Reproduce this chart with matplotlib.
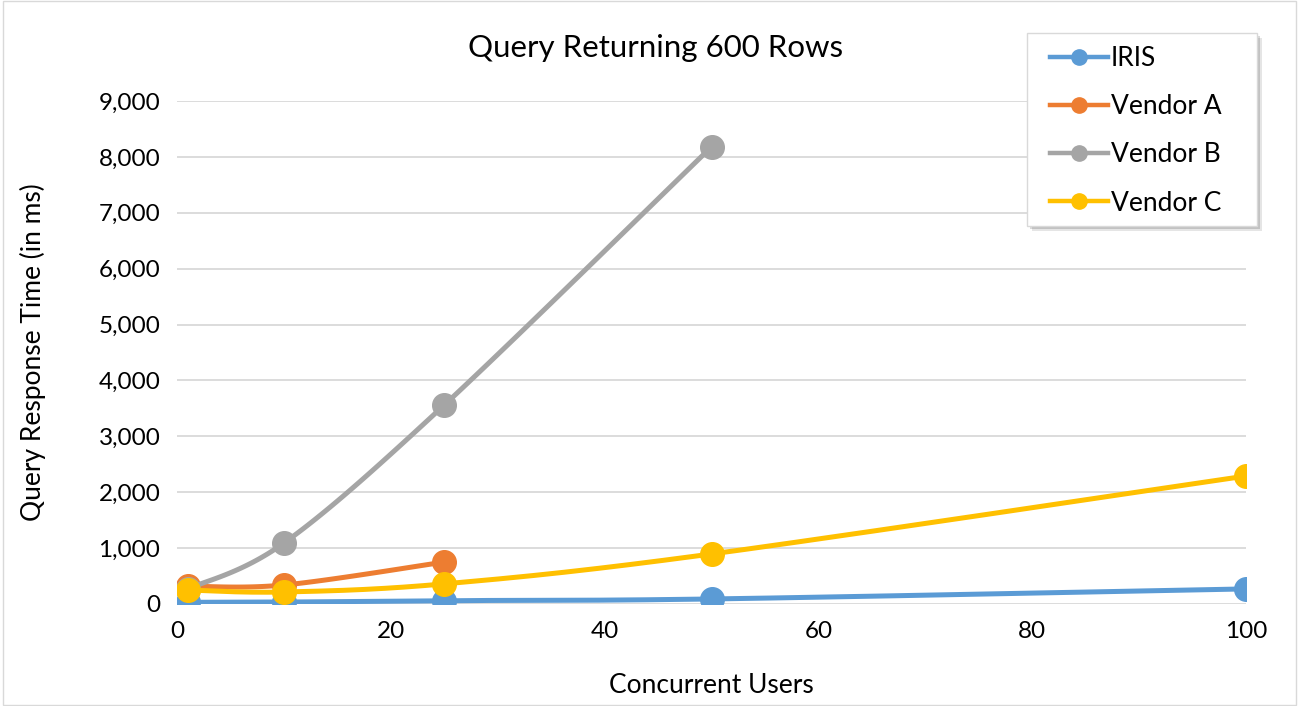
import numpy as np
import matplotlib
matplotlib.use('Agg')
import matplotlib.pyplot as plt
from matplotlib.lines import Line2D
from matplotlib.patches import Rectangle

users = [1, 10, 25, 50, 100]
iris = [30, 35, 60, 90, 270]
vendor_a = [320, 340, 750]
vendor_b = [270, 1090, 3560, 8180]
vendor_c = [250, 215, 360, 895, 2290]

series = [
    ('IRIS', iris, '#5B9BD5'),
    ('Vendor A', vendor_a, '#ED7D31'),
    ('Vendor B', vendor_b, '#A5A5A5'),
    ('Vendor C', vendor_c, '#FFC000'),
]

plt.rcParams['font.family'] = ['Lato', 'DejaVu Sans']


def smooth(xs, ys, n=40):
    # Excel style smoothed line: cubic bezier with catmull-rom control points
    xs = np.asarray(xs, float)
    ys = np.asarray(ys, float)
    px, py = [], []
    for i in range(len(xs) - 1):
        x0, y0 = (xs[i - 1], ys[i - 1]) if i > 0 else (xs[i], ys[i])
        x3, y3 = (xs[i + 2], ys[i + 2]) if i + 2 < len(xs) else (xs[i + 1], ys[i + 1])
        x1, y1 = xs[i], ys[i]
        x2, y2 = xs[i + 1], ys[i + 1]
        c1x, c1y = x1 + (x2 - x0) / 6, y1 + (y2 - y0) / 6
        c2x, c2y = x2 - (x3 - x1) / 6, y2 - (y3 - y1) / 6
        t = np.linspace(0, 1, n)
        bx = (1 - t) ** 3 * x1 + 3 * (1 - t) ** 2 * t * c1x + 3 * (1 - t) * t ** 2 * c2x + t ** 3 * x2
        by = (1 - t) ** 3 * y1 + 3 * (1 - t) ** 2 * t * c1y + 3 * (1 - t) * t ** 2 * c2y + t ** 3 * y2
        px.extend(bx)
        py.extend(by)
    return px, py


W, H = 1299, 706
fig = plt.figure(figsize=(W / 100, H / 100), dpi=100)
ax = fig.add_axes([177 / W, 1 - 604 / H, (1246 - 177) / W, (604 - 101) / H])

for name, vals, color in series:
    xs = users[:len(vals)]
    sx, sy = smooth(xs, vals)
    ax.plot(sx, sy, color=color, lw=3.6, solid_capstyle='round', zorder=3)
    ax.plot(xs, vals, 'o', color=color, ms=17, zorder=3)

ax.set_xlim(0, 100)
ax.set_ylim(0, 9000)
ax.set_xticks(range(0, 101, 20))
ax.set_yticks(range(0, 9001, 1000))
ax.yaxis.set_major_formatter(matplotlib.ticker.StrMethodFormatter('{x:,.0f}'))
ax.grid(axis='y', color='#D9D9D9', lw=1.3)
ax.set_axisbelow(True)
for s in ax.spines.values():
    s.set_visible(False)
ax.tick_params(length=0, labelsize=17.5, colors='black', pad=12)
ax.set_xlabel('Concurrent Users', fontsize=19)
ax.set_ylabel('Query Response Time (in ms)', fontsize=19)
ax.xaxis.set_label_coords(0.5, (604 - 673) / 503)
ax.yaxis.set_label_coords((46 - 177) / 1069, 0.5)
fig.text(656 / W, 1 - 48 / H, 'Query Returning 600 Rows', fontsize=22.5, ha='center', va='center')

# legend box with soft shadow
lx0, ly0, lx1, ly1 = 1027, 33, 1257, 226
for off, a in [(5, 0.10), (3, 0.15)]:
    fig.patches.append(Rectangle(((lx0 + off) / W, 1 - (ly1 + off) / H), (lx1 - lx0) / W, (ly1 - ly0) / H,
                                 transform=fig.transFigure, facecolor='black', alpha=a, edgecolor='none', zorder=4))
fig.patches.append(Rectangle((lx0 / W, 1 - ly1 / H), (lx1 - lx0) / W, (ly1 - ly0) / H,
                             transform=fig.transFigure, facecolor='white', edgecolor='#D9D9D9', lw=1, zorder=5))

handles = [Line2D([], [], color=c, lw=3.2, marker='o', ms=11) for _, _, c in series]
leg = fig.legend(handles, [n for n, _, _ in series], loc='upper left',
                 bbox_to_anchor=(1050 / W, 1 - 46 / H), fontsize=19,
                 frameon=False, handlelength=2.2, handletextpad=0.1,
                 labelspacing=0.88, borderpad=0, borderaxespad=0)
leg.set_zorder(6)

fig.patches.append(Rectangle((0.002, 0.002), 0.996, 0.996, transform=fig.transFigure,
                             fill=False, edgecolor='#D9D9D9', lw=1))

fig.savefig('out.png', dpi=100)
